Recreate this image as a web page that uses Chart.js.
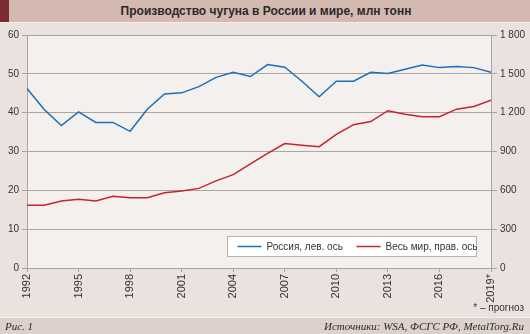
<!DOCTYPE html>
<html lang="ru">
<head>
<meta charset="utf-8">
<script src="https://cdn.jsdelivr.net/npm/chart.js@4.4.1/dist/chart.umd.min.js"></script>
<style>
  html, body { margin: 0; padding: 0; }
  body {
    width: 530px; height: 334px; position: relative; overflow: hidden;
    background: #eae2de; font-family: "Liberation Sans", Arial, sans-serif; color: #333;
  }
  #title {
    position: absolute; left: 0; top: 0; width: 530px; height: 22px;
    background: #d3b9b0; border-bottom: 1px solid #f3eeeb;
  }
  #title .strip { position: absolute; left: 0; top: 0; width: 9px; height: 22px; background: #7a2c31; }
  #title .text {
    position: absolute; left: 0; right: 0; top: 0; line-height: 22px; text-align: center;
    font-weight: bold; font-size: 12px; color: #2a2a2a; padding-left: 2px;
  }
  #chart-box { position: absolute; left: 0; top: 23px; width: 530px; height: 294px; }
  #note { position: absolute; right: 6px; top: 302px; font-size: 10px; color: #333; }
  #footer {
    position: absolute; left: 0; top: 317px; width: 530px; height: 17px;
    background: #dcd1cb; border-top: 1px solid #f3eeeb;
    font-family: "Liberation Serif", "Times New Roman", serif; font-style: italic; font-size: 11px; color: #2a2a2a;
  }
  #footer .left { position: absolute; left: 5px; top: 2px; }
  #footer .right { position: absolute; right: 6px; top: 2px; }
</style>
</head>
<body>
<div id="title"><div class="strip"></div><div class="text">Производство чугуна в России и мире, млн тонн</div></div>
<div id="chart-box"><canvas id="pig-iron-chart" width="530" height="294"></canvas></div>
<div id="note">* – прогноз</div>
<div id="footer"><span class="left">Рис. 1</span><span class="right">Источники: WSA, ФСГС РФ, MetalTorg.Ru</span></div>

<script>
// Years on the x axis
const years = [1992, 1993, 1994, 1995, 1996, 1997, 1998, 1999, 2000, 2001,
               2002, 2003, 2004, 2005, 2006, 2007, 2008, 2009, 2010, 2011,
               2012, 2013, 2014, 2015, 2016, 2017, 2018, 2019];

// Russia, mln t (left axis)
const russia = [46.2, 40.8, 36.7, 40.2, 37.5, 37.5, 35.2, 40.9, 44.8, 45.1,
                46.7, 49.1, 50.4, 49.3, 52.4, 51.7, 48.1, 44.1, 48.1, 48.1,
                50.4, 50.1, 51.2, 52.3, 51.6, 51.9, 51.6, 50.4];

// World, mln t (right axis)
const world = [485, 485, 518, 532, 518, 555, 542, 542, 582, 595,
               615, 673, 721, 804, 885, 961, 948, 937, 1032, 1107,
               1131, 1215, 1187, 1168, 1168, 1227, 1248, 1297];

const seriesLabels = ['Россия, лев. ось', 'Весь мир, прав. ось'];
const forecastYear = 2019;

const gridColor = '#aba5a2';
const textColor = '#333333';

function thousands(v) {
    return String(v).replace(/\B(?=(\d{3})+(?!\d))/g, ' ');
}

// Light background behind the plot area
const plotBackground = {
    id: 'plotBackground',
    beforeDraw(chart) {
        const { ctx, chartArea } = chart;
        ctx.save();
        ctx.fillStyle = '#f4f0ed';
        ctx.fillRect(chartArea.left, chartArea.top, chartArea.right - chartArea.left, chartArea.bottom - chartArea.top);
        ctx.restore();
    }
};

// Boxed legend sitting inside the plot, bottom right
const boxLegend = {
    id: 'boxLegend',
    afterDatasetsDraw(chart) {
        const { ctx, chartArea } = chart;
        const x0 = chartArea.left + 200.5, x1 = chartArea.right - 14.5;
        const y0 = chartArea.bottom - 31.5, y1 = chartArea.bottom - 11.5;
        ctx.save();
        ctx.fillStyle = '#ffffff';
        ctx.fillRect(x0, y0, x1 - x0, y1 - y0);
        ctx.strokeStyle = '#b9b3b0';
        ctx.lineWidth = 1;
        ctx.strokeRect(x0, y0, x1 - x0, y1 - y0);

        const midY = (y0 + y1) / 2;
        const starts = [x0 + 10, x0 + 129];
        ctx.font = '10px "Liberation Sans", Arial, sans-serif';
        ctx.textBaseline = 'middle';
        chart.data.datasets.forEach(function(ds, i) {
            const sx = starts[i];
            ctx.strokeStyle = ds.borderColor;
            ctx.lineWidth = 1.5;
            ctx.beginPath();
            ctx.moveTo(sx, midY);
            ctx.lineTo(sx + 24, midY);
            ctx.stroke();
            ctx.fillStyle = textColor;
            ctx.fillText(ds.label, sx + 29, midY + 0.5);
        });
        ctx.restore();
    }
};

const ctx = document.getElementById('pig-iron-chart');
new Chart(ctx, {
    type: 'line',
    data: {
        datasets: [
            {
                label: seriesLabels[0],
                data: years.map((y, i) => ({ x: y, y: russia[i] })),
                borderColor: '#1a6fbe',
                borderWidth: 1.5,
                pointRadius: 0,
                tension: 0,
                yAxisID: 'y'
            },
            {
                label: seriesLabels[1],
                data: years.map((y, i) => ({ x: y, y: world[i] })),
                borderColor: '#c8232f',
                borderWidth: 1.5,
                pointRadius: 0,
                tension: 0,
                yAxisID: 'y1'
            }
        ]
    },
    options: {
        responsive: false,
        animation: false,
        layout: { padding: { top: 12, left: 0, right: 0, bottom: 0 } },
        plugins: {
            legend: { display: false },
            tooltip: { enabled: false }
        },
        scales: {
            x: {
                type: 'linear',
                min: years[0],
                max: years[years.length - 1],
                afterFit(scale) { scale.height = 49; },
                border: { display: true, color: gridColor },
                grid: { drawOnChartArea: false, drawTicks: true, tickLength: 4, color: gridColor },
                ticks: {
                    stepSize: 3,
                    autoSkip: false,
                    minRotation: 90,
                    maxRotation: 90,
                    padding: 2,
                    color: textColor,
                    font: { size: 11, family: '"Liberation Sans", Arial, sans-serif' },
                    callback: function(v) { return v === forecastYear ? v + '*' : String(v); }
                }
            },
            y: {
                position: 'left',
                min: 0,
                max: 60,
                afterFit(scale) { scale.width = 27; },
                border: { display: true, color: gridColor },
                grid: { color: gridColor, tickLength: 5 },
                ticks: {
                    stepSize: 10,
                    padding: 3,
                    color: textColor,
                    font: { size: 10, family: '"Liberation Sans", Arial, sans-serif' }
                }
            },
            y1: {
                position: 'right',
                min: 0,
                max: 1800,
                afterFit(scale) { scale.width = 39; },
                border: { display: true, color: gridColor },
                grid: { drawOnChartArea: false, color: gridColor, tickLength: 6 },
                ticks: {
                    stepSize: 300,
                    padding: 3,
                    color: textColor,
                    font: { size: 10, family: '"Liberation Sans", Arial, sans-serif' },
                    callback: thousands
                }
            }
        }
    },
    plugins: [plotBackground, boxLegend]
});
</script>
</body>
</html>
